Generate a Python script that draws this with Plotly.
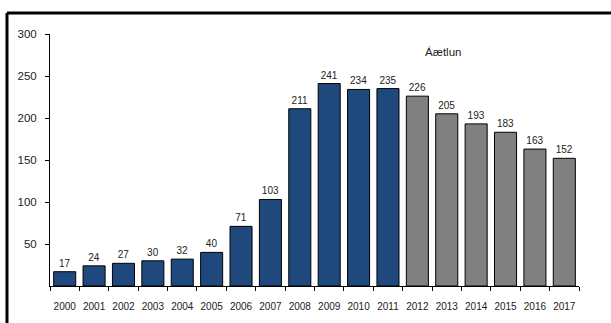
import plotly.graph_objects as go

# Annual values; 2012 onward are projections (Áætlun)
years = [str(y) for y in range(2000, 2018)]
values = [17, 24, 27, 30, 32, 40, 71, 103, 211, 241, 234, 235,
          226, 205, 193, 183, 163, 152]
n_actual = 12  # 2000-2011 are actual figures

color_actual = "#1F497D"
color_forecast = "#808080"
colors = [color_actual] * n_actual + [color_forecast] * (len(years) - n_actual)

y_ticks = [50, 100, 150, 200, 250, 300]
text_color = "#222222"

fig = go.Figure()
fig.add_trace(go.Bar(
    x=years,
    y=values,
    marker=dict(color=colors, line=dict(color="#000000", width=1)),
    text=[str(v) for v in values],
    textposition="outside",
    textfont=dict(family="Liberation Sans, Arial", size=10, color=text_color),
    cliponaxis=False,
))

fig.update_layout(
    width=611,
    height=323,
    margin=dict(l=50, r=32, t=34, b=37),
    paper_bgcolor="white",
    plot_bgcolor="white",
    bargap=0.25,
    showlegend=False,
    font=dict(family="Liberation Sans, Arial", color=text_color),
    xaxis=dict(
        type="category",
        showgrid=False,
        showline=True,
        linecolor="#000000",
        linewidth=1,
        ticks="outside",
        tickson="boundaries",
        ticklen=4,
        tickcolor="#000000",
        tickangle=0,
        tickfont=dict(size=10),
        ticklabelstandoff=11,
    ),
    yaxis=dict(
        range=[0, 300],
        tickvals=y_ticks,
        showgrid=False,
        zeroline=False,
        showline=True,
        linecolor="#000000",
        linewidth=1,
        ticks="outside",
        ticklen=4,
        tickcolor="#000000",
        tickfont=dict(size=11.5),
        ticklabelstandoff=6,
    ),
    annotations=[dict(
        x=12.87, y=279, xref="x", yref="y",
        text="Áætlun", showarrow=False,
        font=dict(size=11.5, color=text_color),
    )],
    shapes=[
        # chart frame (top and left edges visible)
        dict(type="line", xref="paper", yref="paper",
             x0=-0.0813, x1=1.2, y0=1.0833, y1=1.0833,
             line=dict(color="#000000", width=3)),
        dict(type="line", xref="paper", yref="paper",
             x0=-0.0813, x1=-0.0813, y0=1.0833, y1=-0.3,
             line=dict(color="#000000", width=3)),
    ],
)

fig.write_html("out.html")
